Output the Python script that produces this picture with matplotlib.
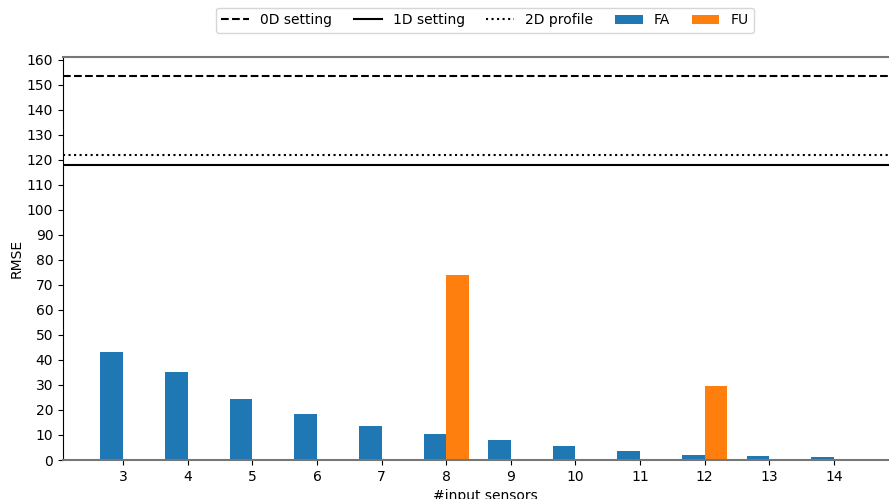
import numpy as np
import matplotlib.pyplot as plt

sensors = [3, 4, 5, 6, 7, 8, 9, 10, 11, 12, 13, 14]
fa_rmse = [43.1, 35.2, 24.4, 18.3, 13.5, 10.4, 8.0, 5.6, 3.6, 1.9, 1.6, 1.0]
fu_sensors = [8, 12]
fu_rmse = [73.9, 29.6]

rmse_0d = 153.3
rmse_1d = 117.7
rmse_2d = 121.9

w = 0.35

fig = plt.figure(figsize=(8.89, 4.99), dpi=100)
ax = fig.add_axes([63 / 889, 39 / 499, 844 / 889, 403 / 499])

ax.axhline(rmse_0d, color='black', ls='--', lw=1.5, label='0D setting')
ax.axhline(rmse_1d, color='black', ls='-', lw=1.5, label='1D setting')
ax.axhline(rmse_2d, color='black', ls=':', lw=1.5, label='2D profile')

ax.bar(np.array(sensors) - w, fa_rmse, w, align='edge', color='#1f77b4', label='FA')
ax.bar(np.array(fu_sensors), fu_rmse, w, align='edge', color='#ff7f0e', label='FU')

ax.set_xticks(sensors)
ax.set_xlim(2.07, 15.13)
ax.set_ylim(0, 161)
ax.set_yticks(np.arange(0, 161, 10))
ax.set_xlabel('#input sensors')
ax.set_ylabel('RMSE', labelpad=2)

ax.spines['right'].set_visible(False)
ax.spines['top'].set_color('#777777')
ax.spines['bottom'].set_color('#777777')
ax.spines['top'].set_linewidth(1.5)
ax.spines['bottom'].set_linewidth(1.5)

ax.legend(loc='lower center', bbox_to_anchor=(0.5, 1.06), ncol=5,
          frameon=True, borderaxespad=0, columnspacing=1.55)

fig.savefig('out.png', dpi=100)
